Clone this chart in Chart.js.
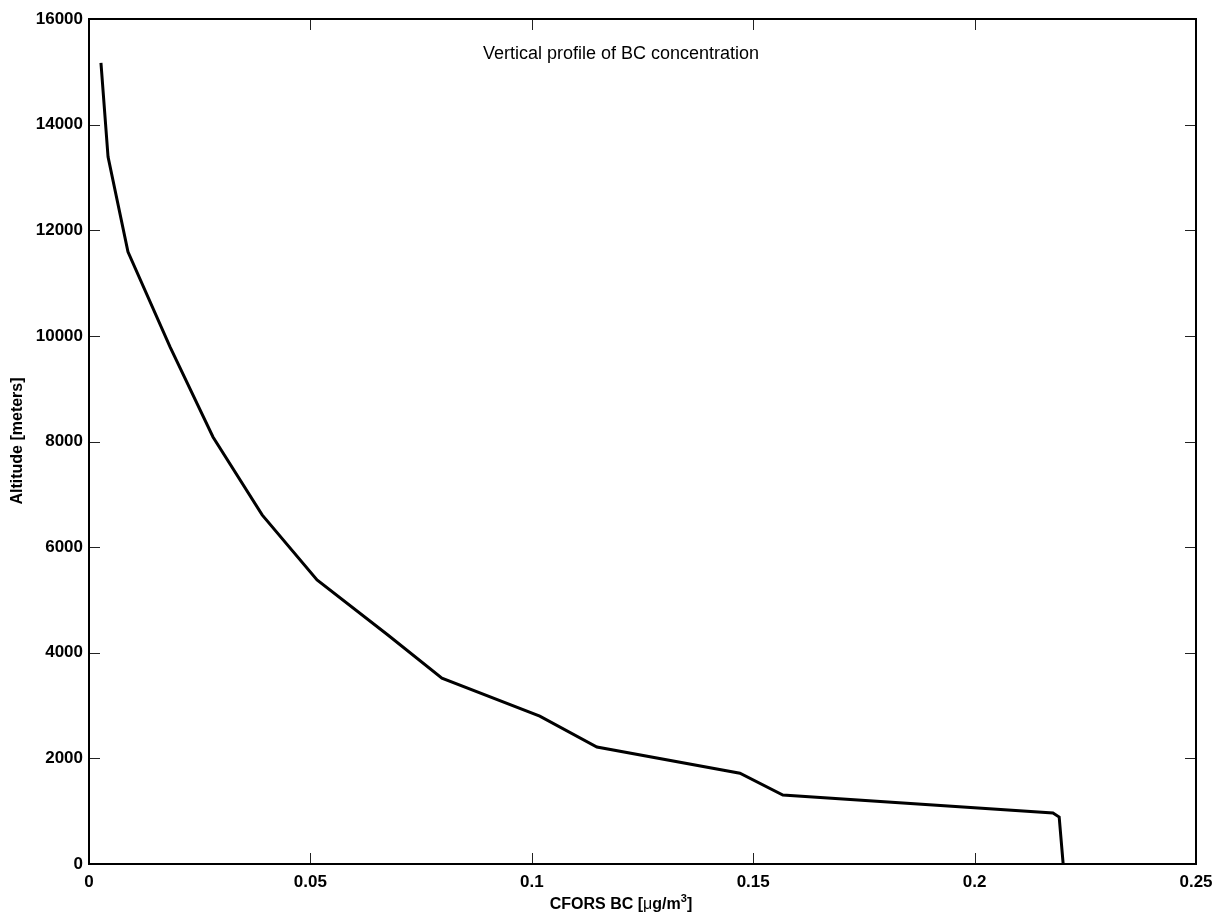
<!DOCTYPE html>
<html>
<head>
<meta charset="utf-8">
<script src="https://cdn.jsdelivr.net/npm/chart.js@4/dist/chart.umd.min.js"></script>
<style>
    html, body { margin: 0; padding: 0; background: #ffffff; }
    #wrap { width: 1214px; height: 914px; position: relative; }
</style>
</head>
<body>
<div id="wrap"><canvas id="profileChart"></canvas></div>
<script>
// CFORS BC concentration (ug/m3) against altitude (m)
const bcValues = [0.0027, 0.0043, 0.0088, 0.0183, 0.0280, 0.0391, 0.0515, 0.0675, 0.0797, 0.1018, 0.1147, 0.1470, 0.1567, 0.2177, 0.2191, 0.2200];
const altitudes = [15170, 13390, 11590, 9790, 8085, 6610, 5380, 4335, 3520, 2800, 2215, 1720, 1305, 965, 890, 0];

const xTicks = [0, 0.05, 0.1, 0.15, 0.2, 0.25];
const yTicks = [0, 2000, 4000, 6000, 8000, 10000, 12000, 14000, 16000];

const chartTitle = 'Vertical profile of BC concentration';
const yTitle = 'Altitude [meters]';

const FONT = "'Liberation Sans', Arial, Helvetica, sans-serif";

// Box, inward ticks on all four sides and the titles (matlab style)
const framePlugin = {
    id: 'frame',
    afterDraw(chart) {
        const { ctx, chartArea: a, scales } = chart;
        const tick = 11;
        ctx.save();

        // tick marks
        ctx.strokeStyle = '#222222';
        ctx.lineWidth = 1;
        ctx.beginPath();
        xTicks.forEach(v => {
            const px = Math.round(scales.x.getPixelForValue(v)) + 0.5;
            ctx.moveTo(px, a.bottom); ctx.lineTo(px, a.bottom - tick);
            ctx.moveTo(px, a.top); ctx.lineTo(px, a.top + tick);
        });
        yTicks.forEach(v => {
            const py = Math.round(scales.y.getPixelForValue(v)) + 0.5;
            ctx.moveTo(a.left, py); ctx.lineTo(a.left + tick, py);
            ctx.moveTo(a.right, py); ctx.lineTo(a.right - tick, py);
        });
        ctx.stroke();

        // axes box
        ctx.strokeStyle = '#000000';
        ctx.lineWidth = 2;
        ctx.strokeRect(a.left, a.top, a.right - a.left, a.bottom - a.top);

        // title inside the plot
        ctx.fillStyle = '#000000';
        ctx.font = '18px ' + FONT;
        ctx.textAlign = 'center';
        ctx.textBaseline = 'middle';
        ctx.fillText(chartTitle, 621, 54);

        // y axis title
        ctx.font = 'bold 16px ' + FONT;
        ctx.translate(18, 441);
        ctx.rotate(-Math.PI / 2);
        ctx.fillText(yTitle, 0, 0);
        ctx.setTransform(1, 0, 0, 1, 0, 0);

        // x axis title with superscript
        const parts = [
            { t: 'CFORS BC [', f: 'bold 16px ' + FONT, dy: 0 },
            { t: 'μ', f: '16px ' + FONT, dy: 0 },
            { t: 'g/m', f: 'bold 16px ' + FONT, dy: 0 },
            { t: '3', f: 'bold 11px ' + FONT, dy: -7 },
            { t: ']', f: 'bold 16px ' + FONT, dy: 0 }
        ];
        let total = 0;
        parts.forEach(p => { ctx.font = p.f; p.w = ctx.measureText(p.t).width; total += p.w; });
        let x = 621 - total / 2;
        ctx.textAlign = 'left';
        ctx.textBaseline = 'alphabetic';
        parts.forEach(p => {
            ctx.font = p.f;
            ctx.fillText(p.t, x, 909 + p.dy);
            x += p.w;
        });

        ctx.restore();
    }
};

const ctx = document.getElementById('profileChart').getContext('2d');

new Chart(ctx, {
    type: 'scatter',
    data: {
        datasets: [{
            label: 'CFORS BC',
            data: bcValues.map((v, i) => ({ x: v, y: altitudes[i] })),
            showLine: true,
            borderColor: '#000000',
            borderWidth: 3,
            pointRadius: 0,
            tension: 0,
            fill: false
        }]
    },
    options: {
        responsive: true,
        maintainAspectRatio: false,
        animation: false,
        layout: {
            padding: { top: 19, right: 18, left: 0, bottom: 0 }
        },
        plugins: {
            legend: { display: false },
            tooltip: { enabled: false }
        },
        scales: {
            x: {
                type: 'linear',
                min: 0,
                max: 0.25,
                afterBuildTicks: scale => { scale.ticks = xTicks.map(v => ({ value: v })); },
                afterFit: scale => {
                    scale.height = 50;
                    scale.paddingLeft = 0;
                    scale.paddingRight = 0;
                },
                grid: { display: false, drawTicks: false },
                border: { display: false },
                ticks: {
                    padding: 8,
                    color: '#000000',
                    maxRotation: 0,
                    font: { family: FONT, size: 17, weight: 'bold' },
                    callback: value => String(value)
                }
            },
            y: {
                type: 'linear',
                min: 0,
                max: 16000,
                afterBuildTicks: scale => { scale.ticks = yTicks.map(v => ({ value: v })); },
                afterFit: scale => {
                    scale.width = 89;
                    scale.paddingTop = 0;
                    scale.paddingBottom = 0;
                },
                grid: { display: false, drawTicks: false },
                border: { display: false },
                ticks: {
                    padding: 6,
                    color: '#000000',
                    font: { family: FONT, size: 17, weight: 'bold' },
                    callback: value => String(value)
                }
            }
        }
    },
    plugins: [framePlugin]
});
</script>
</body>
</html>
